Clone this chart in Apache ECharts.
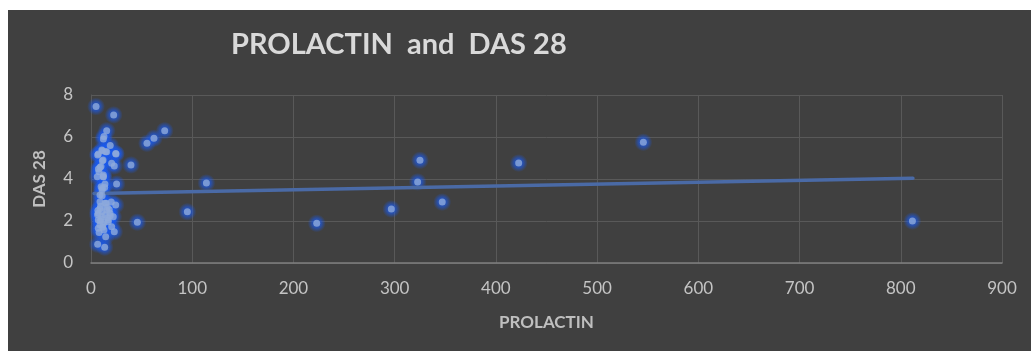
<!DOCTYPE html>
<html>
<head>
<meta charset="utf-8">
<script src="https://cdn.jsdelivr.net/npm/echarts@6/dist/echarts.min.js"></script>
<style>
html,body{margin:0;padding:0;background:#ffffff;}
#chart{position:absolute;left:8px;top:10px;width:1023px;height:341px;background:#404040;}
</style>
</head>
<body>
<div id="chart"></div>
<script>
var chartTitle = 'PROLACTIN  and  DAS 28';
var xAxisName = 'PROLACTIN';
var yAxisName = 'DAS 28';
// Prolactin values (x)
var prolactin = [
  5, 22.4, 72.8, 62.2, 55.3, 39.5, 114, 95.2, 45.8, 24.7, 25.3, 23, 24.4, 14.5, 6.6, 13.5,
  15.5, 12.8, 12.2, 19, 6.6, 10.7, 15.5, 11.9, 20.4, 23, 7.3, 9.9, 6.2, 12, 10, 13.5, 11,
  11, 7.2, 11.2, 14.5, 24.4, 11.2, 8.9, 7.9, 12.2, 12.2, 13.8, 11.2, 8.9, 8.9, 13.8, 8.9,
  15.5, 7.2, 18.8, 10.6, 22, 7.2, 17.1, 8.9, 20.4, 7.2, 12.8, 9.5, 16, 6.5, 11, 14, 18,
  10, 13, 16.5, 8, 12, 20, 9, 15, 19, 6.8, 11.5, 17,
  223, 296.7, 322.7, 325, 347, 422.5, 545.7, 811.5
];
// DAS 28 values (y)
var das28 = [
  7.45, 7.05, 6.3, 5.94, 5.7, 4.67, 3.81, 2.44, 1.94, 5.19, 3.76, 1.49, 2.76, 1.25, 0.89, 0.75,
  6.3, 6.02, 5.9, 5.6, 5.14, 5.38, 5.3, 4.9, 4.75, 4.62, 4.48, 4.6, 4.11, 4.11, 3.63, 3.6, 3.48,
  3.2, 5.19, 5.35, 5.3, 5.22, 4.87, 4.56, 4.35, 4.19, 4.11, 3.76, 3.56, 3.24, 2.92, 2.84, 2.6,
  2.52, 2.37, 2.37, 2.2, 2.2, 2.05, 1.97, 1.81, 1.73, 1.65, 1.57, 2.7, 2.65, 2.3, 2.45, 2.3, 2.55,
  2.1, 1.95, 2.15, 1.45, 1.85, 2.9, 2.0, 2.85, 2.25, 2.5, 1.7, 2.05,
  1.89, 2.57, 3.86, 4.89, 2.9, 4.76, 5.75, 2.0
];
// Linear trendline end points [x, y]
var trendLine = [[3, 3.31], [812, 4.03]];
var xTicks = [0, 900, 100];
var yTicks = [0, 8, 2];

var points = prolactin.map(function (v, i) { return [v, das28[i]]; });

var glow = new echarts.graphic.RadialGradient(0.5, 0.5, 0.5, [
  { offset: 0, color: 'rgba(25,90,240,1)' },
  { offset: 0.5, color: 'rgba(25,90,240,0.75)' },
  { offset: 1, color: 'rgba(25,90,240,0)' }
]);

var chart = echarts.init(document.getElementById('chart'));
chart.setOption({
  backgroundColor: '#404040',
  animation: false,
  title: {
    text: chartTitle,
    left: 218,
    top: 15,
    textStyle: { color: '#d9d9d9', fontFamily: 'Lato', fontWeight: 'bold', fontSize: 29 }
  },
  grid: { left: 83, right: 29, top: 85, bottom: 88, show: false },
  xAxis: {
    type: 'value', min: xTicks[0], max: xTicks[1], interval: xTicks[2],
    name: xAxisName, nameLocation: 'middle', nameGap: 51,
    nameTextStyle: { color: '#bfbfbf', fontFamily: 'Lato', fontWeight: 'bold', fontSize: 17 },
    axisLine: { show: true, lineStyle: { color: '#7f7f7f', width: 1.5 } },
    axisTick: { show: false },
    axisLabel: { color: '#c4c4c4', fontFamily: 'Lato', fontSize: 17, margin: 17 },
    splitLine: { show: true, lineStyle: { color: '#595959', width: 1 } }
  },
  yAxis: {
    type: 'value', min: yTicks[0], max: yTicks[1], interval: yTicks[2],
    name: yAxisName, nameLocation: 'middle', nameGap: 43,
    nameTextStyle: { color: '#bfbfbf', fontFamily: 'Lato', fontWeight: 'bold', fontSize: 17 },
    axisLine: { show: true, lineStyle: { color: '#595959', width: 1 } },
    axisTick: { show: false },
    axisLabel: { color: '#c4c4c4', fontFamily: 'Lato', fontSize: 17, margin: 18 },
    splitLine: { show: true, lineStyle: { color: '#595959', width: 1 } }
  },
  series: [
    {
      type: 'scatter',
      data: points,
      symbolSize: 18,
      silent: true,
      itemStyle: { color: glow },
      z: 1
    },
    {
      type: 'line',
      data: trendLine,
      showSymbol: false,
      symbol: 'none',
      lineStyle: { color: '#4a6aa6', width: 3.5, cap: 'round' },
      z: 2
    },
    {
      type: 'scatter',
      data: points,
      symbolSize: 7,
      itemStyle: { color: '#8eaadb' },
      z: 3
    }
  ]
});
</script>
</body>
</html>
